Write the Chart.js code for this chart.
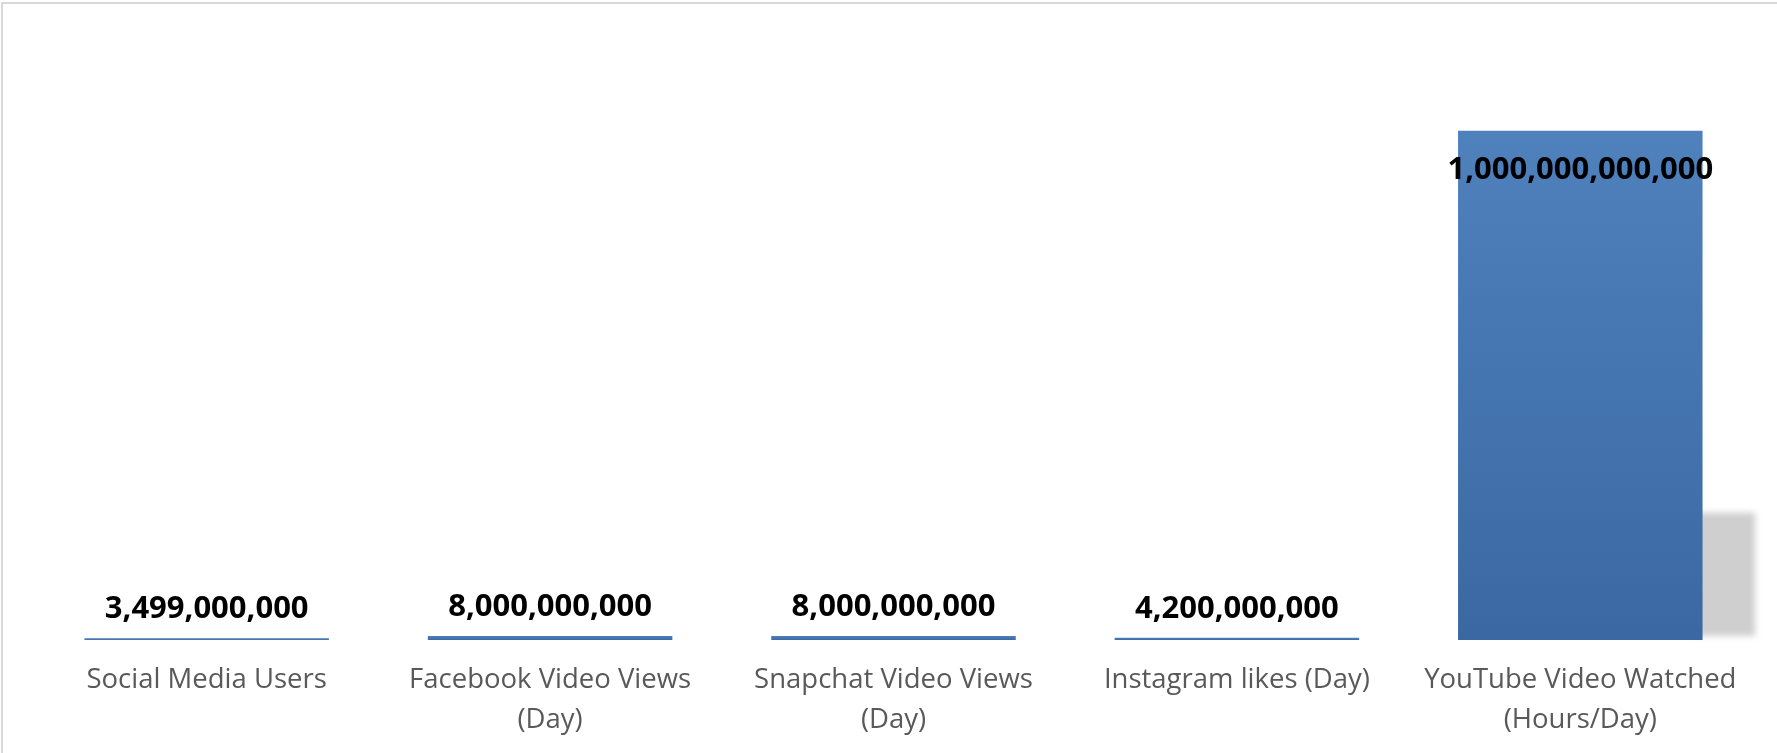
<!DOCTYPE html>
<html>
<head>
<meta charset="utf-8">
<script src="https://cdn.jsdelivr.net/npm/chart.js@4/dist/chart.umd.min.js"></script>
<style>
  body { margin: 0; background: #fff; overflow: hidden; }
  #frame { position: absolute; left: 1px; top: 2px; width: 1820px; height: 820px; border: 2px solid #d9d9d9; }
  #chart { position: absolute; left: 0; top: 0; }
</style>
</head>
<body>
<div id="frame"></div>
<canvas id="chart" width="1777" height="753"></canvas>
<script>
var categories = [
  ['Social Media Users'],
  ['Facebook Video Views', '(Day)'],
  ['Snapchat Video Views', '(Day)'],
  ['Instagram likes (Day)'],
  ['YouTube Video Watched', '(Hours/Day)']
];
var values = [3499000000, 8000000000, 8000000000, 4200000000, 1000000000000];
var axisMax = 1200000000000;

// excel-ish vertical gradient, spread over each bar
function barFill(context) {
  var chart = context.chart;
  if (!chart.chartArea || !chart.scales.y) return '#4a7ab6';
  var y = chart.scales.y;
  var top = y.getPixelForValue(context.raw);
  var bottom = y.getPixelForValue(0);
  if (bottom - top < 2) return '#4677b3';
  var g = chart.ctx.createLinearGradient(0, top, 0, bottom);
  g.addColorStop(0, '#4f81bd');
  g.addColorStop(1, '#3b68a2');
  return g;
}

// soft grey shadow thrown to the right of each bar
var shadowPlugin = {
  id: 'barShadow',
  beforeDatasetsDraw: function (chart) {
    var ctx = chart.ctx;
    chart.getDatasetMeta(0).data.forEach(function (bar) {
      var h = bar.base - bar.y;
      if (h < 20) return;
      var right = bar.x + bar.width / 2;
      var sw = bar.width * 0.215;
      var sh = h * 0.25;
      ctx.save();
      ctx.filter = 'blur(3px)';
      ctx.fillStyle = '#cfcfcf';
      ctx.fillRect(right - 10, bar.base - sh, sw + 10, sh - 4);
      ctx.restore();
    });
  }
};

// value labels: above small bars, inside the top of tall ones
var valueLabels = {
  id: 'valueLabels',
  afterDatasetsDraw: function (chart) {
    var ctx = chart.ctx;
    ctx.save();
    ctx.font = 'bold 31px "Open Sans"';
    ctx.fillStyle = '#000000';
    ctx.textAlign = 'center';
    ctx.textBaseline = 'middle';
    chart.getDatasetMeta(0).data.forEach(function (bar, i) {
      var txt = values[i].toLocaleString('en-US');
      var h = bar.base - bar.y;
      var y = h > 80 ? bar.y + 39 : bar.y - 29;
      ctx.fillText(txt, bar.x, y);
    });
    ctx.restore();
  }
};

new Chart(document.getElementById('chart'), {
  type: 'bar',
  data: {
    labels: categories,
    datasets: [{
      data: values,
      backgroundColor: barFill,
      borderWidth: 0,
      categoryPercentage: 1,
      barPercentage: 0.712
    }]
  },
  options: {
    responsive: false,
    animation: false,
    layout: { padding: { left: 35, right: 25, top: 29, bottom: 0 } },
    plugins: {
      legend: { display: false },
      tooltip: { enabled: false }
    },
    scales: {
      x: {
        grid: { display: false, drawTicks: false },
        border: { display: false },
        ticks: {
          color: '#595959',
          padding: 20,
          font: { family: 'Open Sans', size: 27.5, lineHeight: 1.45 }
        },
        afterFit: function (scale) { scale.height = 113; }
      },
      y: {
        display: false,
        min: 0,
        max: axisMax
      }
    }
  },
  plugins: [shadowPlugin, valueLabels]
});
</script>
</body>
</html>
